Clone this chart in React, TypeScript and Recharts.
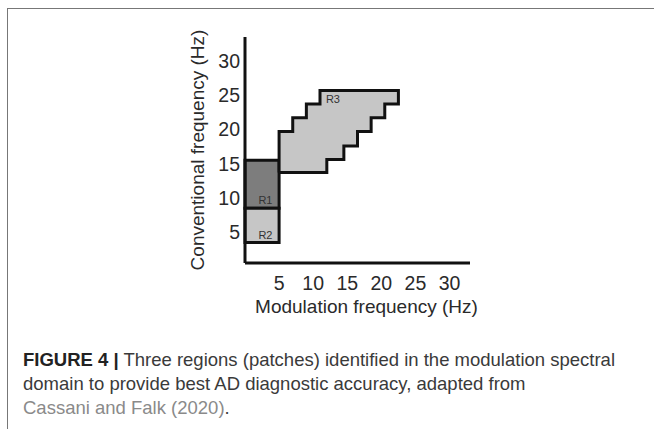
import React from "react";
import { ComposedChart, Area, Line, XAxis, YAxis, ReferenceArea, ReferenceDot } from "recharts";

const xTicks = [5, 10, 15, 20, 25, 30];
const yTicks = [5, 10, 15, 20, 25, 30];

// R1 / R2 rectangles (modulation Hz, conventional Hz)
const r1X = [0, 5];
const r1Y = [8.5, 15.5];
const r2X = [0, 5];
const r2Y = [3.5, 8.5];

// R3 staircase patch: lower / upper edge holding from each x to the next
const r3StepX = [5, 7, 9, 11, 12, 14.5, 16.5, 18.5, 20.5, 22.5];
const r3Low = [13.7, 13.7, 13.7, 13.7, 15.6, 17.6, 19.7, 21.7, 23.7, 23.7];
const r3High = [19.7, 21.7, 23.7, 25.7, 25.7, 25.7, 25.7, 25.7, 25.7, 25.7];

const patchLabels = ["R1", "R2", "R3"];
const labelX = [3, 3, 12.9];
const labelY = [9.7, 4.6, 24.4];

const r3Fill = r3StepX.map((x, i) => ({ x, range: [r3Low[i], r3High[i]] }));

// closed outline of R3 traced from the step arrays
const r3Outline: { x: number; y: number }[] = [];
const n = r3StepX.length;
r3Outline.push({ x: r3StepX[0], y: r3Low[0] });
for (let i = 0; i < n - 1; i++) {
  r3Outline.push({ x: r3StepX[i], y: r3High[i] });
  r3Outline.push({ x: r3StepX[i + 1], y: r3High[i] });
}
for (let i = n - 2; i >= 0; i--) {
  r3Outline.push({ x: r3StepX[i + 1], y: r3Low[i] });
  r3Outline.push({ x: r3StepX[i], y: r3Low[i] });
}

const ink = "#111";
const font = "'Liberation Sans', Arial, sans-serif";

export default function App() {
  return (
    <div style={{ position: "absolute", left: 0, top: 0, width: 654, height: 429, background: "#fff", overflow: "hidden" }}>
      <div
        style={{
          position: "absolute",
          left: 7,
          top: 8,
          width: 660,
          height: 440,
          borderTop: "1px solid #777",
          borderLeft: "1px solid #777",
        }}
      />
      <ComposedChart
        width={654}
        height={340}
        margin={{ top: 37, right: 184, bottom: 0, left: 0 }}
        style={{ position: "absolute", left: 0, top: 0, fontFamily: font }}
      >
        <XAxis
          dataKey="x"
          type="number"
          domain={[0, 33]}
          allowDataOverflow
          ticks={xTicks}
          height={77}
          tickLine={false}
          tickSize={0}
          tickMargin={13}
          axisLine={{ stroke: ink, strokeWidth: 3 }}
          tick={{ fill: "#2a2a2a", fontSize: 19.5 }}
          label={{ value: "Modulation frequency (Hz)", position: "insideBottom", offset: 27, dx: 9, fill: "#2a2a2a", fontSize: 19 }}
        />
        <YAxis
          type="number"
          domain={[0.5, 33.5]}
          allowDataOverflow
          ticks={yTicks}
          width={245}
          tickLine={false}
          tickSize={0}
          tickMargin={5}
          axisLine={{ stroke: ink, strokeWidth: 3 }}
          tick={{ fill: "#2a2a2a", fontSize: 19.5 }}
          label={{
            value: "Conventional frequency (Hz)",
            angle: -90,
            position: "insideLeft",
            offset: 197,
            fill: "#2a2a2a",
            fontSize: 19,
            style: { textAnchor: "middle" },
          }}
        />
        <ReferenceArea x1={r1X[0]} x2={r1X[1]} y1={r1Y[0]} y2={r1Y[1]} fill="#7d7d7d" fillOpacity={1} stroke={ink} strokeWidth={3} />
        <ReferenceArea x1={r2X[0]} x2={r2X[1]} y1={r2Y[0]} y2={r2Y[1]} fill="#c6c6c6" fillOpacity={1} stroke={ink} strokeWidth={3} />
        <Area
          data={r3Fill}
          dataKey="range"
          type="stepAfter"
          fill="#c6c6c6"
          fillOpacity={1}
          stroke="none"
          isAnimationActive={false}
        />
        <Line
          data={r3Outline}
          dataKey="y"
          type="linear"
          stroke={ink}
          strokeWidth={3}
          dot={false}
          activeDot={false}
          isAnimationActive={false}
        />
        {patchLabels.map((p, i) => (
          <ReferenceDot
            key={p}
            x={labelX[i]}
            y={labelY[i]}
            r={0}
            fill="none"
            stroke="none"
            label={{ value: p, position: "center", fill: "#333", fontSize: 11 }}
          />
        ))}
      </ComposedChart>
      <div
        style={{
          position: "absolute",
          left: 23,
          top: 348,
          width: 640,
          fontFamily: font,
          fontSize: 18.5,
          lineHeight: "24px",
          color: "#3a3a3a",
          whiteSpace: "nowrap",
        }}
      >
        <b style={{ color: "#222" }}>FIGURE 4 |</b> Three regions (patches) identified in the modulation spectral
        <br />
        domain to provide best AD diagnostic accuracy, adapted from
        <br />
        <span style={{ color: "#8a8a8a" }}>Cassani and Falk (2020)</span>.
      </div>
    </div>
  );
}
